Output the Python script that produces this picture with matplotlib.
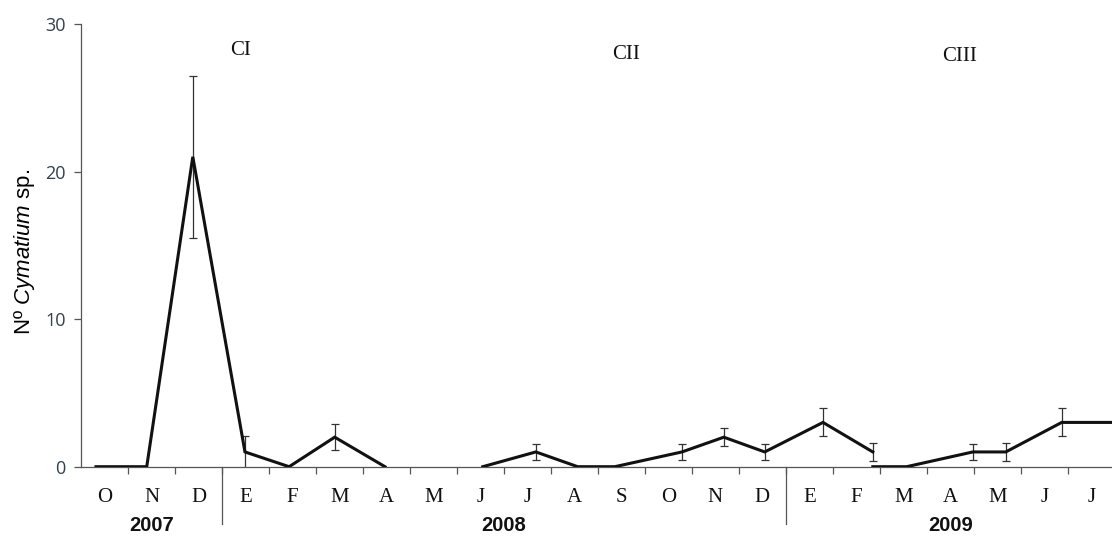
import matplotlib
matplotlib.use("Agg")
from matplotlib import pyplot as plt
from matplotlib.transforms import blended_transform_factory

plt.rcParams["mathtext.fontset"] = "custom"
plt.rcParams["mathtext.rm"] = "Liberation Sans"
plt.rcParams["mathtext.it"] = "Liberation Sans:italic"

# month labels along the x axis (Spanish initials), grouped by year
months_2007 = ["O", "N", "D"]
months_2008 = ["E", "F", "M", "A", "M", "J", "J", "A", "S", "O", "N", "D"]
months_2009 = ["E", "F", "M", "A", "M", "J", "J"]
years = ["2007", "2008", "2009"]

# sampling dates in month units from Oct 2007 (0 = start of October)
# and mean counts with their error, split where the series is broken
seg1_x = [0.32, 1.40, 2.38, 3.49, 4.43, 5.40, 6.47]
seg1_y = [0, 0, 21, 1, 0, 2, 0]
seg1_err = [0, 0, 5.5, 1.1, 0, 0.9, 0]

seg2_x = [8.55, 9.68, 10.57, 11.36, 12.79, 13.68, 14.55, 15.79, 16.85]
seg2_y = [0, 1, 0, 0, 1, 2, 1, 3, 1]
seg2_err = [0, 0.55, 0, 0, 0.55, 0.6, 0.55, 0.95, 0.6]

seg3_x = [16.85, 17.57, 18.98, 19.68, 20.87, 21.94]
seg3_y = [0, 0, 1, 1, 3, 3]
seg3_err = [0, 0, 0.55, 0.6, 0.95, 0]

# campaign labels
campaigns = ["CI", "CII", "CIII"]
campaign_x = [3.4, 11.6, 18.7]
campaign_y = [28.2, 27.9, 27.8]

months = months_2007 + months_2008 + months_2009
n = len(months)

fig = plt.figure(figsize=(11.12, 5.36), dpi=100)
ax = fig.add_axes([0.0728, 0.1293, 0.9272, 0.826])

for xs, ys, es in [(seg1_x, seg1_y, seg1_err),
                   (seg2_x, seg2_y, seg2_err),
                   (seg3_x, seg3_y, seg3_err)]:
    ax.plot(xs, ys, color="#111111", lw=2.2, solid_joinstyle="miter", zorder=3)
    ex = [x for x, e in zip(xs, es) if e > 0]
    ey = [y for y, e in zip(ys, es) if e > 0]
    ee = [e for e in es if e > 0]
    ax.errorbar(ex, ey, yerr=ee, fmt="none", ecolor="#333333", elinewidth=0.9,
                capsize=3, capthick=0.9, zorder=2)

ax.set_xlim(0, 21.94)
ax.set_ylim(0, 30)

for s in ["top", "right"]:
    ax.spines[s].set_visible(False)
for s in ["left", "bottom"]:
    ax.spines[s].set_color("#555555")
    ax.spines[s].set_linewidth(0.9)

ax.set_yticks([0, 10, 20, 30])
ax.tick_params(axis="y", direction="out", length=5, width=0.9, color="#555555",
               labelsize=13, labelcolor="#33404d", pad=6)
for lab in ax.get_yticklabels():
    lab.set_fontfamily(["Open Sans", "DejaVu Sans"])

# tick marks on month boundaries, labels centred in each month
ax.set_xticks(range(1, n))
ax.set_xticklabels([])
ax.tick_params(axis="x", direction="out", length=5, width=0.9, color="#555555")

trans = blended_transform_factory(ax.transData, ax.transAxes)
for i, m in enumerate(months):
    ax.text(i + 0.5, -0.07, m, transform=trans, ha="center", va="center",
            fontsize=15, family=["Liberation Serif", "DejaVu Serif"], color="#111111")

# year separators and year labels
groups = [months_2007, months_2008, months_2009]
start = 0
for yr, g in zip(years, groups):
    end = start + len(g)
    if end < n:
        ax.plot([end, end], [0, -0.13], transform=trans, color="#555555",
                lw=0.9, clip_on=False)
    ax.text((start + end) / 2, -0.133, yr, transform=trans, ha="center",
            va="center", fontsize=14.5, fontweight="semibold",
            family=["Liberation Sans", "DejaVu Sans"], color="#111111")
    start = end

for c, cx, cy in zip(campaigns, campaign_x, campaign_y):
    ax.text(cx, cy, c, ha="center", va="center", fontsize=15,
            family=["Liberation Serif", "DejaVu Serif"], color="#111111")

fig.text(0.022, 0.53, "Nº $\\it{Cymatium}$ sp.", rotation=90, ha="center",
         va="center", fontsize=16,
         family=["Liberation Sans", "DejaVu Sans"])

fig.savefig("out.png", dpi=100)
